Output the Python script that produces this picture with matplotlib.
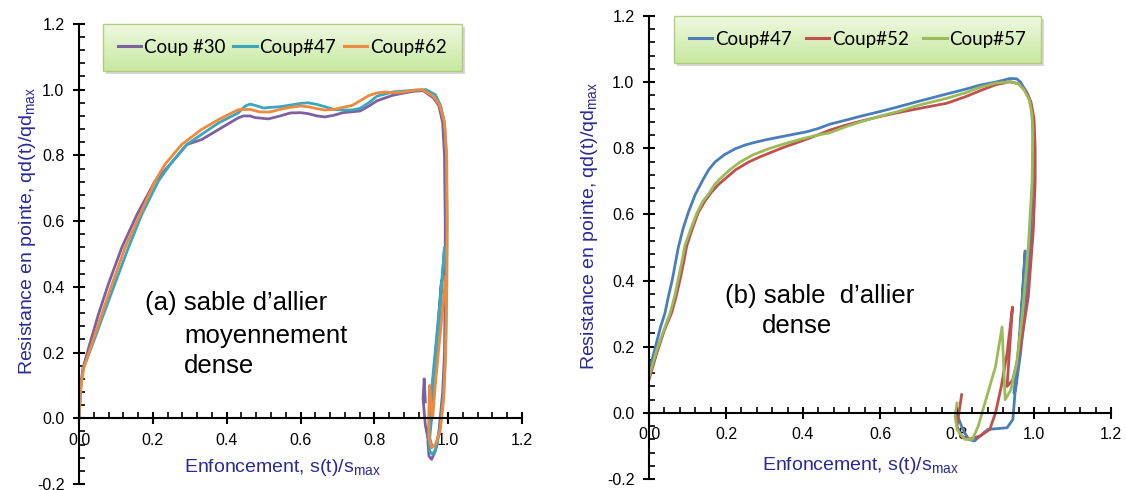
import matplotlib
matplotlib.use('Agg')
import numpy as np
import matplotlib.pyplot as plt
from matplotlib.ticker import MultipleLocator, FormatStrFormatter
from matplotlib.colors import LinearSegmentedColormap
from matplotlib.patches import Rectangle

plt.rcParams['font.family'] = ['Liberation Sans', 'DejaVu Sans']

# ---- (a) sable d'allier moyennement dense ----
a_labels = ['Coup #30', 'Coup#47', 'Coup#62']
a_colors = ['#7d60a0', '#3aa6bf', '#ee8a3e']

s30 = [0, 0.004, 0.01, 0.03, 0.053, 0.08, 0.116, 0.157, 0.206, 0.247, 0.292, 0.332,
       0.38, 0.41, 0.431, 0.445, 0.463, 0.477, 0.513, 0.545, 0.572, 0.6, 0.62, 0.645,
       0.666, 0.69, 0.715, 0.761, 0.785, 0.807, 0.85, 0.905, 0.932, 0.96, 0.975,
       0.985, 0.99, 0.992, 0.992, 0.99, 0.985, 0.975, 0.965, 0.955, 0.948, 0.945,
       0.95, 0.96, 0.972, 0.982, 0.97, 0.955, 0.945, 0.938, 0.932, 0.935, 0.938]
q30 = [0, 0.08, 0.15, 0.23, 0.318, 0.41, 0.52, 0.62, 0.722, 0.773, 0.833, 0.848,
       0.88, 0.9, 0.914, 0.92, 0.92, 0.915, 0.911, 0.92, 0.929, 0.93, 0.927, 0.92,
       0.917, 0.922, 0.93, 0.935, 0.95, 0.966, 0.983, 0.995, 0.997, 0.975, 0.95,
       0.9, 0.8, 0.6, 0.4, 0.2, 0.08, -0.04, -0.1, -0.125, -0.115, -0.07,
       0.0, 0.12, 0.28, 0.42, 0.2, 0.0, -0.06, -0.02, 0.06, 0.12, 0.05]

s47a = [0, 0.004, 0.013, 0.035, 0.067, 0.094, 0.134, 0.17, 0.215, 0.247, 0.292,
        0.332, 0.38, 0.431, 0.45, 0.463, 0.477, 0.5, 0.517, 0.545, 0.572, 0.6, 0.62,
        0.645, 0.666, 0.69, 0.715, 0.74, 0.761, 0.785, 0.807, 0.85, 0.905, 0.94,
        0.965, 0.98, 0.99, 0.995, 0.997, 0.996, 0.993, 0.988, 0.978, 0.968, 0.958,
        0.95, 0.947, 0.952, 0.962, 0.975, 0.985, 0.99, 0.98, 0.965, 0.955, 0.95,
        0.955]
q47a = [0, 0.1, 0.157, 0.22, 0.318, 0.4, 0.52, 0.62, 0.722, 0.773, 0.833,
        0.864, 0.9, 0.929, 0.95, 0.956, 0.952, 0.944, 0.946, 0.948, 0.953, 0.958, 0.96,
        0.955, 0.948, 0.94, 0.938, 0.938, 0.943, 0.96, 0.98, 0.993, 0.998, 1.0,
        0.985, 0.95, 0.9, 0.8, 0.6, 0.4, 0.2, 0.08, -0.03, -0.09, -0.11,
        -0.1, -0.05, 0.05, 0.17, 0.32, 0.45, 0.52, 0.35, 0.15, 0.0, -0.06,
        -0.08]

s62 = [0, 0.004, 0.012, 0.033, 0.062, 0.09, 0.125, 0.165, 0.206, 0.233, 0.278,
       0.332, 0.38, 0.431, 0.463, 0.49, 0.517, 0.545, 0.572, 0.6, 0.62, 0.645, 0.666,
       0.69, 0.715, 0.74, 0.761, 0.785, 0.807, 0.83, 0.85, 0.875, 0.905, 0.93, 0.96,
       0.978, 0.99, 0.996, 0.997, 0.996, 0.993, 0.988, 0.978, 0.965, 0.955, 0.948,
       0.947, 0.95, 0.953, 0.958, 0.965, 0.975, 0.985, 0.993]
q62 = [0, 0.09, 0.15, 0.22, 0.318, 0.41, 0.52, 0.62, 0.722, 0.773, 0.833,
       0.879, 0.91, 0.939, 0.94, 0.932, 0.932, 0.94, 0.946, 0.95, 0.948, 0.942, 0.938,
       0.94, 0.946, 0.952, 0.966, 0.982, 0.99, 0.993, 0.99, 0.992, 0.998, 1.0, 0.98,
       0.95, 0.9, 0.8, 0.6, 0.4, 0.2, 0.06, -0.04, -0.08, -0.09, -0.06,
       0.0, 0.1, 0.05, 0.0, 0.1, 0.22, 0.33, 0.43]

# ---- (b) sable d'allier dense ----
b_labels = ['Coup#47', 'Coup#52', 'Coup#57']
b_colors = ['#4a7ebb', '#c0504d', '#9bbb59']

s47b = [0, 0.01, 0.02, 0.03, 0.041, 0.05, 0.06, 0.068, 0.076, 0.088, 0.102, 0.12,
        0.141, 0.155, 0.171, 0.195, 0.223, 0.25, 0.275, 0.305, 0.335, 0.379, 0.41,
        0.44, 0.47, 0.508, 0.55, 0.6, 0.643, 0.7, 0.773, 0.82, 0.86, 0.9, 0.938,
        0.955, 0.965, 0.972, 0.98, 0.988, 0.994, 0.997, 0.997, 0.99, 0.98, 0.965,
        0.952, 0.948, 0.96, 0.97, 0.977, 0.965, 0.952, 0.945, 0.93, 0.9, 0.88,
        0.86, 0.845, 0.83, 0.815, 0.805, 0.8]
q47b = [0.125, 0.17, 0.215, 0.26, 0.3, 0.35, 0.4, 0.45, 0.5, 0.555, 0.606, 0.66,
        0.707, 0.735, 0.758, 0.78, 0.798, 0.81, 0.818, 0.826, 0.833, 0.843, 0.85,
        0.86, 0.873, 0.884, 0.897, 0.911, 0.924, 0.942, 0.964, 0.978, 0.991, 1.0, 1.011,
        1.01, 1.0, 0.986, 0.972, 0.95, 0.92, 0.85, 0.7, 0.5, 0.35, 0.18,
        0.07, 0.06, 0.2, 0.36, 0.49, 0.25, 0.08, -0.02, -0.045, -0.048, -0.05,
        -0.07, -0.085, -0.08, -0.05, -0.02, -0.01]

s52 = [0, 0.02, 0.04, 0.059, 0.07, 0.08, 0.09, 0.098, 0.112, 0.128, 0.145, 0.162,
       0.18, 0.197, 0.225, 0.258, 0.29, 0.318, 0.35, 0.387, 0.422, 0.47, 0.508,
       0.55, 0.6, 0.643, 0.7, 0.773, 0.82, 0.86, 0.9, 0.938, 0.96, 0.98, 0.992,
       1.0, 1.003, 1.003, 0.998, 0.985, 0.965, 0.945, 0.93, 0.937, 0.944, 0.93,
       0.915, 0.9, 0.885, 0.86, 0.83, 0.81, 0.8, 0.805, 0.812]
q52 = [0.1, 0.18, 0.25, 0.303, 0.35, 0.4, 0.455, 0.505, 0.555, 0.606, 0.64, 0.667,
       0.69, 0.707, 0.735, 0.758, 0.775, 0.788, 0.803, 0.818, 0.833, 0.855, 0.869,
       0.882, 0.896, 0.907, 0.92, 0.936, 0.955, 0.974, 0.992, 1.001, 0.995, 0.97, 0.94,
       0.89, 0.8, 0.7, 0.55, 0.35, 0.2, 0.1, 0.08, 0.2, 0.32, 0.18,
       0.08, 0.0, -0.05, -0.07, -0.08, -0.07, -0.04, 0.0, 0.055]

s57 = [0, 0.02, 0.04, 0.055, 0.066, 0.075, 0.085, 0.093, 0.108, 0.125, 0.14, 0.158,
       0.17, 0.184, 0.21, 0.236, 0.27, 0.309, 0.35, 0.396, 0.43, 0.47, 0.508,
       0.55, 0.6, 0.643, 0.7, 0.773, 0.82, 0.86, 0.9, 0.94, 0.96, 0.975, 0.988,
       0.995, 0.997, 0.995, 0.985, 0.97, 0.955, 0.94, 0.925, 0.921, 0.917, 0.9,
       0.875, 0.855, 0.84, 0.82, 0.8, 0.795, 0.8]
q57 = [0.11, 0.19, 0.255, 0.303, 0.35, 0.4, 0.455, 0.505, 0.555, 0.606, 0.64, 0.667,
       0.69, 0.707, 0.735, 0.758, 0.78, 0.798, 0.813, 0.828, 0.838, 0.847, 0.864,
       0.88, 0.897, 0.91, 0.93, 0.951, 0.967, 0.984, 0.997, 1.001, 0.995, 0.975, 0.945,
       0.9, 0.85, 0.7, 0.5, 0.3, 0.15, 0.07, 0.04, 0.15, 0.26, 0.14,
       0.04, -0.04, -0.08, -0.08, -0.05, -0.01, 0.03]

xticks = [0.0, 0.2, 0.4, 0.6, 0.8, 1.0, 1.2]
yticks = [-0.2, 0.0, 0.2, 0.4, 0.6, 0.8, 1.0, 1.2]

label_color = '#2a2a96'

fig = plt.figure(figsize=(11.26, 4.9), dpi=100)
ax1 = fig.add_axes([0.0702, 0.0122, 0.3934, 0.939])
ax2 = fig.add_axes([0.5764, 0.0224, 0.4103, 0.945])


def style_axes(ax):
    ax.set_xlim(0, 1.2)
    ax.set_ylim(-0.2, 1.2)
    ax.spines['left'].set_position(('data', 0))
    ax.spines['bottom'].set_position(('data', 0))
    ax.spines['top'].set_visible(False)
    ax.spines['right'].set_visible(False)
    ax.spines['left'].set_linewidth(1.5)
    ax.spines['bottom'].set_linewidth(1.5)
    ax.set_xticks(xticks)
    ax.set_yticks(yticks)
    ax.xaxis.set_minor_locator(MultipleLocator(0.04))
    ax.yaxis.set_minor_locator(MultipleLocator(0.04))
    ax.xaxis.set_major_formatter(FormatStrFormatter('%.1f'))
    ax.yaxis.set_major_formatter(FormatStrFormatter('%.1f'))
    ax.tick_params(which='major', direction='inout', length=9, width=1.5,
                   labelsize=11.5, pad=6)
    ax.tick_params(which='minor', direction='in', length=4, width=1.2)
    ax.set_facecolor('none')


def add_legend(ax, colspace):
    leg = ax.legend(loc='upper left', bbox_to_anchor=(0.054, 1.0),
                    ncol=3, frameon=True, fancybox=False,
                    handlelength=1.25, handletextpad=0.15,
                    columnspacing=colspace, borderpad=0.8, borderaxespad=0,
                    prop={'family': 'Lato', 'size': 13.5})
    fr = leg.get_frame()
    fr.set_facecolor('none')
    fr.set_edgecolor('#a5c46a')
    fr.set_linewidth(1.0)
    for ln in leg.get_lines():
        ln.set_linewidth(2.2)
    return leg


# panel (a)
style_axes(ax1)
ax1.plot(s30, q30, color=a_colors[0], lw=2.0, label=a_labels[0])
ax1.plot(s47a, q47a, color=a_colors[1], lw=2.0, label=a_labels[1])
ax1.plot(s62, q62, color=a_colors[2], lw=2.0, label=a_labels[2])
leg1 = add_legend(ax1, 0.4)
ax1.set_ylabel(r'Resistance en pointe, qd(t)/qd$_{\mathregular{max}}$',
               color=label_color, fontsize=14)
ax1.yaxis.set_label_coords(-0.093, 0.55)
ax1.set_xlabel(r'Enfoncement, s(t)/s$_{\mathregular{max}}$',
               color=label_color, fontsize=14)
ax1.xaxis.set_label_coords(0.46, 0.058)
ax1.text(0.18, 0.33, '(a) sable d\u2019allier', fontsize=18.5)
ax1.text(0.285, 0.228, 'moyennement', fontsize=18.5)
ax1.text(0.285, 0.137, 'dense', fontsize=18.5)

# panel (b)
style_axes(ax2)
ax2.plot(s47b, q47b, color=b_colors[0], lw=2.0, label=b_labels[0])
ax2.plot(s52, q52, color=b_colors[1], lw=2.0, label=b_labels[1])
ax2.plot(s57, q57, color=b_colors[2], lw=2.0, label=b_labels[2])
leg2 = add_legend(ax2, 0.75)
ax2.set_ylabel(r'Resistance en pointe, qd(t)/qd$_{\mathregular{max}}$',
               color=label_color, fontsize=14)
ax2.yaxis.set_label_coords(-0.106, 0.546)
ax2.set_xlabel(r'Enfoncement, s(t)/s$_{\mathregular{max}}$',
               color=label_color, fontsize=14)
ax2.xaxis.set_label_coords(0.457, 0.052)
ax2.text(0.197, 0.332, '(b) sable  d\u2019allier', fontsize=18.5)
ax2.text(0.293, 0.242, 'dense', fontsize=18.5)

# green gradient fill + soft shadow behind each legend box
fig.canvas.draw()
grad = np.linspace(0, 1, 64).reshape(-1, 1)
gcmap = LinearSegmentedColormap.from_list('leg', ['#eef9e0', '#c8e8a0'])
inv = fig.transFigure.inverted()
for leg in (leg1, leg2):
    bb = leg.get_frame().get_window_extent().transformed(inv)
    fig.add_artist(Rectangle((bb.x0 + 0.0025, bb.y0 - 0.007), bb.width, bb.height,
                             transform=fig.transFigure, facecolor='#bdbdbd',
                             edgecolor='none', alpha=0.6, zorder=-3))
    gax = fig.add_axes([bb.x0, bb.y0, bb.width, bb.height], zorder=-1)
    gax.imshow(grad, aspect='auto', cmap=gcmap, extent=[0, 1, 0, 1])
    gax.axis('off')

fig.savefig('out.png', dpi=100)
